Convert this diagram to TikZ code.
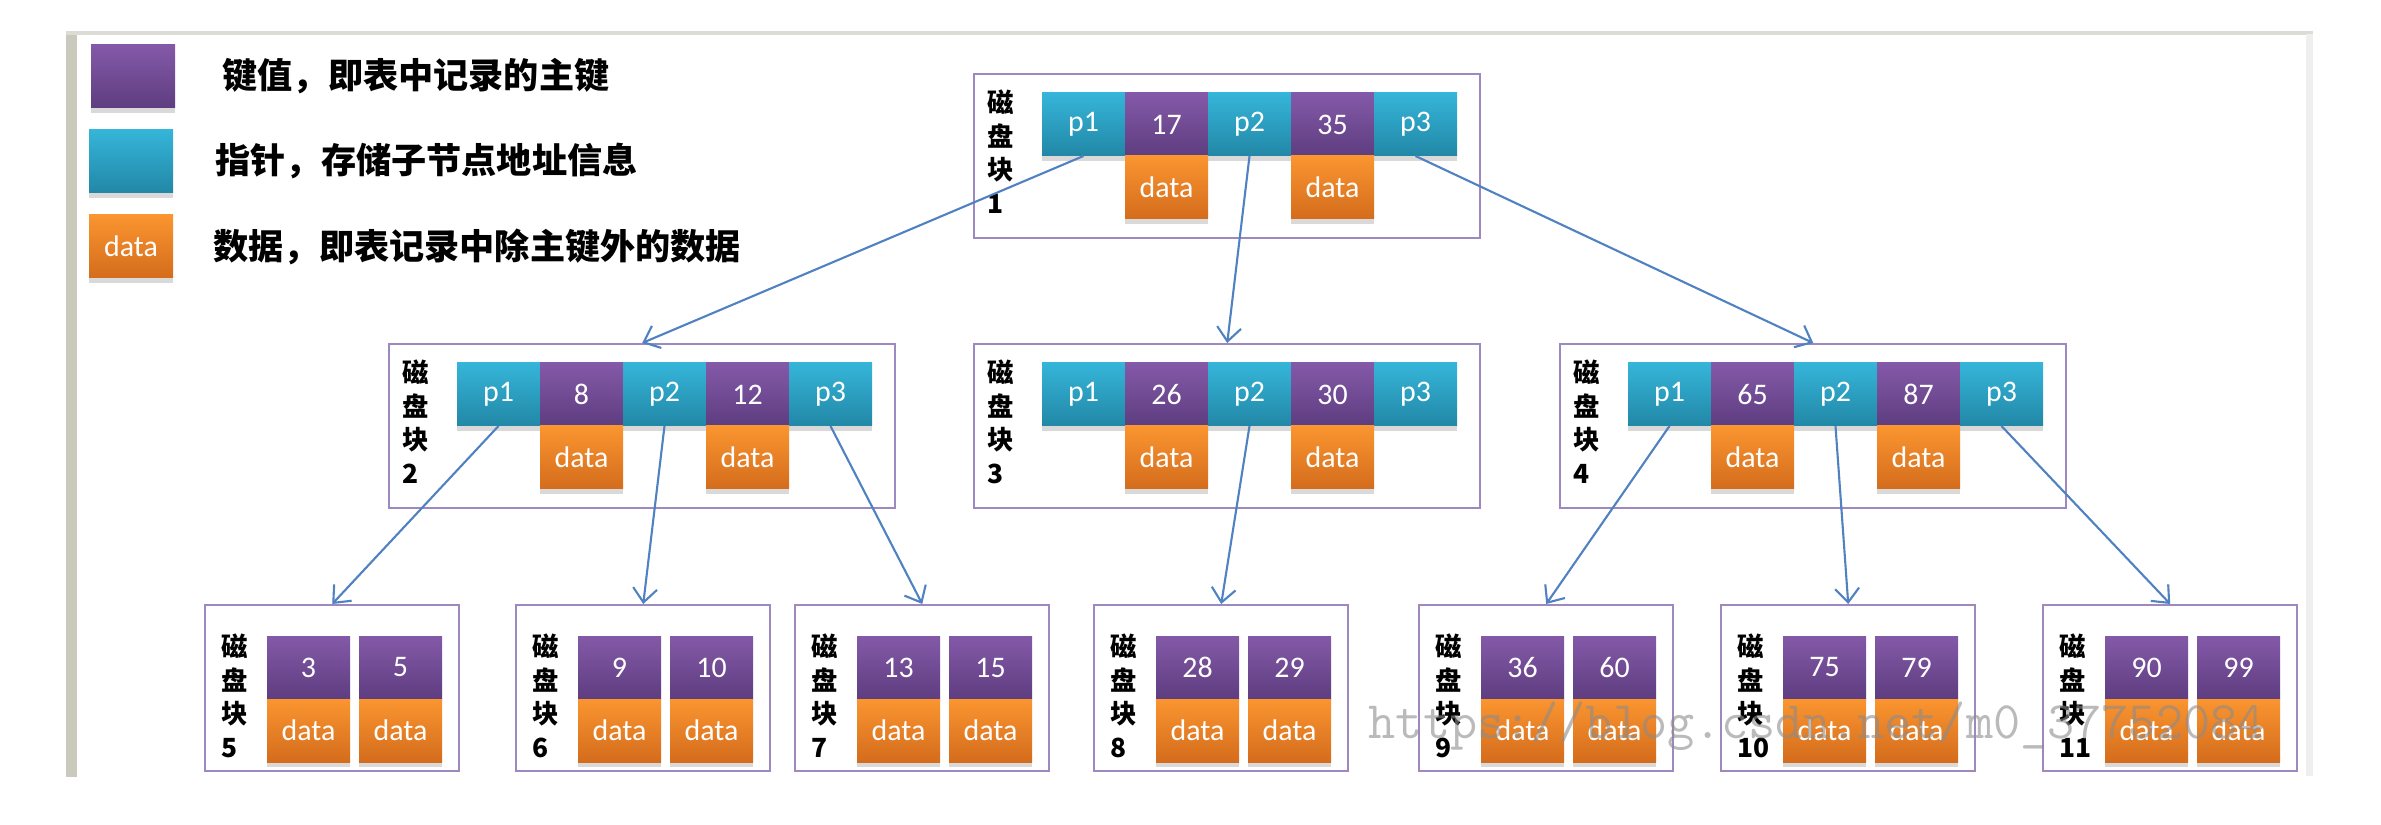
\documentclass[tikz,border=0pt]{standalone}
\usepackage{fontspec}
\setmainfont{Carlito}
\newfontfamily\cjkfont{Noto Sans CJK SC}
\usepackage{xcolor}
\usetikzlibrary{positioning,arrows.meta,shadows}

\definecolor{keytop}{HTML}{8459A8}
\definecolor{keybot}{HTML}{5E3D80}
\definecolor{ptrtop}{HTML}{35B5D9}
\definecolor{ptrbot}{HTML}{2287A6}
\definecolor{datatop}{HTML}{FA9530}
\definecolor{databot}{HTML}{D46C1C}
\definecolor{blockline}{HTML}{9E88C0}
\definecolor{linkblue}{HTML}{5081C0}
\definecolor{frameleft}{HTML}{C9C9BC}
\definecolor{frametop}{HTML}{DCDCD4}
\definecolor{frameright}{HTML}{EFEFEF}

\begin{document}
\begin{tikzpicture}[
    x=0.1mm, y=-0.1mm,
    node distance=0pt,
    cell/.style={rectangle, minimum width=8.3mm, minimum height=6.3mm, inner sep=0pt, outer sep=0pt, text=white, font=\fontsize{8.5}{10}\selectfont, drop shadow={shadow xshift=0pt, shadow yshift=-0.5mm, opacity=0.3}},
    keycell/.style={cell, top color=keytop, bottom color=keybot},
    ptrcell/.style={cell, top color=ptrtop, bottom color=ptrbot},
    datacell/.style={cell, top color=datatop, bottom color=databot},
    diskblock/.style={rectangle, draw=blockline, line width=0.7pt, minimum width=50.6mm, minimum height=16.4mm, anchor=north west},
    leafblock/.style={diskblock, minimum width=25.4mm, minimum height=16.6mm},
    blocklabel/.style={anchor=north west, align=left, inner sep=0pt, font=\cjkfont\bfseries\fontsize{7.5}{9.6}\selectfont},
    legendtext/.style={anchor=west, inner sep=0pt, font=\cjkfont\bfseries\fontsize{10}{12}\selectfont},
    link/.style={-{Straight Barb[length=1.4mm, width=2.4mm]}, line width=0.6pt, draw=linkblue},
    watermark/.style={anchor=base west, inner sep=0pt, text=black!45, text opacity=0.6, font=\ttfamily\fontsize{15}{15}\selectfont}
]
    \useasboundingbox (0,0) rectangle (2381,825);

    % frame of the screenshot
    \fill[frameleft] (66,32) rectangle (77,777);
    \draw[frametop, line width=1pt] (66,33) -- (2313,33);
    \fill[frameright] (2306,34) rectangle (2313,776);

    % legend
    \node[keycell, minimum width=8.4mm, anchor=north west] (legkey) at (91,45) {};
    \node[ptrcell, minimum width=8.4mm, anchor=north west] (legptr) at (89,130) {};
    \node[datacell, minimum width=8.4mm, anchor=north west] (legdata) at (89,215) {data};
    \node[legendtext, right=4.7mm of legkey] (legkeytxt) {键值，即表中记录的主键};
    \node[legendtext, right=4.2mm of legptr] (legptrtxt) {指针，存储子节点地址信息};
    \node[legendtext, right=4mm of legdata] (legdatatxt) {数据，即表记录中除主键外的数据};

    % block 1
    \node[diskblock] (b1) at (973,73) {};
    \node[blocklabel] (b1lab) at ([xshift=1.4mm, yshift=-1.6mm]b1.north west) {磁\\盘\\块\\1};
    \node[ptrcell, anchor=north west] (b1p1) at ([xshift=6.9mm, yshift=-2mm]b1.north west) {p1};
    \node[keycell, right=of b1p1] (b1k1) {17};
    \node[ptrcell, right=of b1k1] (b1p2) {p2};
    \node[keycell, right=of b1p2] (b1k2) {35};
    \node[ptrcell, right=of b1k2] (b1p3) {p3};
    \node[datacell, below=of b1k1] (b1d1) {data};
    \node[datacell, below=of b1k2] (b1d2) {data};

    % block 2
    \node[diskblock] (b2) at (388,343) {};
    \node[blocklabel] (b2lab) at ([xshift=1.4mm, yshift=-1.6mm]b2.north west) {磁\\盘\\块\\2};
    \node[ptrcell, anchor=north west] (b2p1) at ([xshift=6.9mm, yshift=-2mm]b2.north west) {p1};
    \node[keycell, right=of b2p1] (b2k1) {8};
    \node[ptrcell, right=of b2k1] (b2p2) {p2};
    \node[keycell, right=of b2p2] (b2k2) {12};
    \node[ptrcell, right=of b2k2] (b2p3) {p3};
    \node[datacell, below=of b2k1] (b2d1) {data};
    \node[datacell, below=of b2k2] (b2d2) {data};

    % block 3
    \node[diskblock] (b3) at (973,343) {};
    \node[blocklabel] (b3lab) at ([xshift=1.4mm, yshift=-1.6mm]b3.north west) {磁\\盘\\块\\3};
    \node[ptrcell, anchor=north west] (b3p1) at ([xshift=6.9mm, yshift=-2mm]b3.north west) {p1};
    \node[keycell, right=of b3p1] (b3k1) {26};
    \node[ptrcell, right=of b3k1] (b3p2) {p2};
    \node[keycell, right=of b3p2] (b3k2) {30};
    \node[ptrcell, right=of b3k2] (b3p3) {p3};
    \node[datacell, below=of b3k1] (b3d1) {data};
    \node[datacell, below=of b3k2] (b3d2) {data};

    % block 4
    \node[diskblock] (b4) at (1559,343) {};
    \node[blocklabel] (b4lab) at ([xshift=1.4mm, yshift=-1.6mm]b4.north west) {磁\\盘\\块\\4};
    \node[ptrcell, anchor=north west] (b4p1) at ([xshift=6.9mm, yshift=-2mm]b4.north west) {p1};
    \node[keycell, right=of b4p1] (b4k1) {65};
    \node[ptrcell, right=of b4k1] (b4p2) {p2};
    \node[keycell, right=of b4p2] (b4k2) {87};
    \node[ptrcell, right=of b4k2] (b4p3) {p3};
    \node[datacell, below=of b4k1] (b4d1) {data};
    \node[datacell, below=of b4k2] (b4d2) {data};

    % leaf blocks
    \node[leafblock] (b5) at (204,604) {};
    \node[blocklabel] (b5lab) at ([xshift=1.7mm, yshift=-2.9mm]b5.north west) {磁\\盘\\块\\5};
    \node[keycell, anchor=north west] (b5k1) at ([xshift=6.3mm, yshift=-3.2mm]b5.north west) {3};
    \node[keycell, right=0.9mm of b5k1] (b5k2) {5};
    \node[datacell, below=of b5k1] (b5d1) {data};
    \node[datacell, below=of b5k2] (b5d2) {data};

    \node[leafblock] (b6) at (515,604) {};
    \node[blocklabel] (b6lab) at ([xshift=1.7mm, yshift=-2.9mm]b6.north west) {磁\\盘\\块\\6};
    \node[keycell, anchor=north west] (b6k1) at ([xshift=6.3mm, yshift=-3.2mm]b6.north west) {9};
    \node[keycell, right=0.9mm of b6k1] (b6k2) {10};
    \node[datacell, below=of b6k1] (b6d1) {data};
    \node[datacell, below=of b6k2] (b6d2) {data};

    \node[leafblock] (b7) at (794,604) {};
    \node[blocklabel] (b7lab) at ([xshift=1.7mm, yshift=-2.9mm]b7.north west) {磁\\盘\\块\\7};
    \node[keycell, anchor=north west] (b7k1) at ([xshift=6.3mm, yshift=-3.2mm]b7.north west) {13};
    \node[keycell, right=0.9mm of b7k1] (b7k2) {15};
    \node[datacell, below=of b7k1] (b7d1) {data};
    \node[datacell, below=of b7k2] (b7d2) {data};

    \node[leafblock] (b8) at (1093,604) {};
    \node[blocklabel] (b8lab) at ([xshift=1.7mm, yshift=-2.9mm]b8.north west) {磁\\盘\\块\\8};
    \node[keycell, anchor=north west] (b8k1) at ([xshift=6.3mm, yshift=-3.2mm]b8.north west) {28};
    \node[keycell, right=0.9mm of b8k1] (b8k2) {29};
    \node[datacell, below=of b8k1] (b8d1) {data};
    \node[datacell, below=of b8k2] (b8d2) {data};

    \node[leafblock] (b9) at (1418,604) {};
    \node[blocklabel] (b9lab) at ([xshift=1.7mm, yshift=-2.9mm]b9.north west) {磁\\盘\\块\\9};
    \node[keycell, anchor=north west] (b9k1) at ([xshift=6.3mm, yshift=-3.2mm]b9.north west) {36};
    \node[keycell, right=0.9mm of b9k1] (b9k2) {60};
    \node[datacell, below=of b9k1] (b9d1) {data};
    \node[datacell, below=of b9k2] (b9d2) {data};

    \node[leafblock] (b10) at (1720,604) {};
    \node[blocklabel] (b10lab) at ([xshift=1.7mm, yshift=-2.9mm]b10.north west) {磁\\盘\\块\\10};
    \node[keycell, anchor=north west] (b10k1) at ([xshift=6.3mm, yshift=-3.2mm]b10.north west) {75};
    \node[keycell, right=0.9mm of b10k1] (b10k2) {79};
    \node[datacell, below=of b10k1] (b10d1) {data};
    \node[datacell, below=of b10k2] (b10d2) {data};

    \node[leafblock] (b11) at (2042,604) {};
    \node[blocklabel] (b11lab) at ([xshift=1.7mm, yshift=-2.9mm]b11.north west) {磁\\盘\\块\\11};
    \node[keycell, anchor=north west] (b11k1) at ([xshift=6.3mm, yshift=-3.2mm]b11.north west) {90};
    \node[keycell, right=0.9mm of b11k1] (b11k2) {99};
    \node[datacell, below=of b11k1] (b11d1) {data};
    \node[datacell, below=of b11k2] (b11d2) {data};

    % pointers
    \draw[link] (b1p1.south) -- (b2.north);
    \draw[link] (b1p2.south) -- (b3.north);
    \draw[link] (b1p3.south) -- (b4.north);
    \draw[link] (b2p1.south) -- (b5.north);
    \draw[link] (b2p2.south) -- (b6.north);
    \draw[link] (b2p3.south) -- (b7.north);
    \draw[link] (b3p2.south) -- (b8.north);
    \draw[link] (b4p1.south) -- (b9.north);
    \draw[link] (b4p2.south) -- (b10.north);
    \draw[link] (b4p3.south) -- (b11.north);

    \node[watermark] (wm) at (1368,738) {https://blog.csdn.net/m0\_37752084};
\end{tikzpicture}
\end{document}
